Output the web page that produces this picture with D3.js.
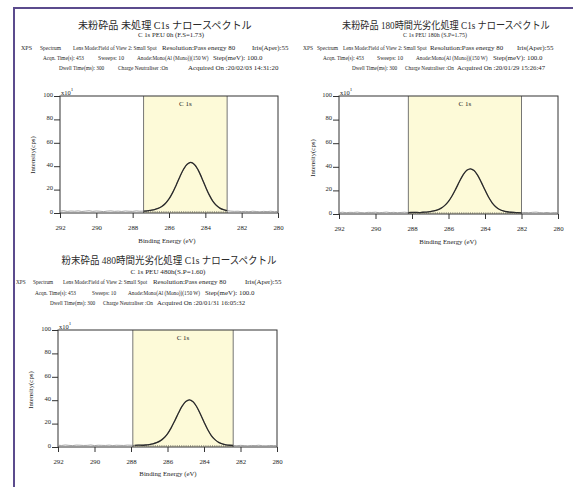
<!DOCTYPE html>
<html><head><meta charset="utf-8">
<script src="https://cdn.jsdelivr.net/npm/d3@7"></script>
<style>
body{margin:0;background:#fff}
svg{display:block}
text{font-family:'Liberation Serif','Noto Sans CJK JP',serif;fill:#1e1e1e}
</style>
</head><body>
<svg id="chart" width="573" height="487"></svg>
<script>
// ---------- DATA ----------
const energy = [292.0,291.8,291.6,291.4,291.2,291.0,290.8,290.6,290.4,290.2,290.0,289.8,289.6,289.4,289.2,289.0,288.8,288.6,288.4,288.2,288.0,287.8,287.6,287.4,287.2,
287.0,286.8,286.6,286.4,286.2,286.0,285.8,285.6,285.4,285.2,285.0,284.8,284.6,284.4,284.2,284.0,283.8,283.6,283.4,283.2,283.0,282.8,282.6,
282.4,282.2,282.0,281.8,281.6,281.4,281.2,281.0,280.8,280.6,280.4,280.2,280.0];

const intensity0h = [1.6,1.9,1.4,1.7,1.5,1.8,1.3,1.6,1.9,1.4,1.7,1.5,1.2,1.6,1.8,1.4,1.6,1.3,1.7,1.5,1.4,1.8,1.5,1.6,1.8,
2.3,2.9,3.9,5.5,8.1,12.0,17.4,24.0,31.0,37.4,41.7,43.2,41.5,36.9,30.2,22.8,15.9,10.4,6.6,4.2,2.8,2.0,1.6,
1.4,1.5,1.2,1.4,1.1,1.5,1.3,1.0,1.4,1.2,1.5,1.1,1.3];

const intensity180h = [1.2,1.5,1.1,1.4,1.3,1.6,1.2,1.0,1.4,1.3,1.5,1.1,1.3,1.6,1.2,1.4,1.1,1.3,1.5,1.2,1.3,1.4,1.2,1.5,1.6,
2.0,2.6,3.5,5.0,7.3,10.7,15.5,21.3,27.5,33.2,37.0,38.3,36.8,32.7,26.8,20.3,14.2,9.3,6.0,3.8,2.6,1.9,1.5,
1.3,1.2,1.0,1.3,1.1,1.4,1.6,1.2,1.0,1.3,0.9,1.2,1.0];

const intensity480h = [1.5,1.3,1.7,1.4,1.2,1.6,1.5,1.3,1.4,1.7,1.2,1.5,1.4,1.3,1.6,1.2,1.5,1.4,1.3,1.6,1.5,1.4,1.6,1.5,1.7,
2.1,2.7,3.7,5.2,7.7,11.3,16.4,22.5,29.0,34.9,38.9,40.3,38.7,34.4,28.2,21.4,15.0,9.8,6.3,4.0,2.7,1.9,1.5,
1.3,1.1,1.4,1.2,1.0,1.3,1.2,1.5,1.1,1.0,1.3,1.2,1.1];

const xTickLabels = [292,290,288,286,284,282,280];
const yTickLabels = [0,20,40,60,80,100];

const titles = ["未粉砕品 未処理 C1s ナロースペクトル","未粉砕品 180時間光劣化処理 C1s ナロースペクトル","粉末砕品 480時間光劣化処理 C1s ナロースペクトル"];
const subtitles = ["C 1s PEU 0h (F.S=1.73)","C 1s PEU 180h (S.P=1.75)","C 1s PEU 480h(S.P=1.60)"];
const regionStart = [287.4,288.2,287.9];
const regionEnd = [282.8,282.0,282.4];
const backgroundStart = [1.0,0.9,1.0];
const backgroundEnd = [0.9,0.8,0.9];
const regionLabel = "C 1s";
const acquired = ["20/02/03 14:31:20","20/01/29 15:26:47","20/01/31 16:05:32"];
const series = [intensity0h,intensity180h,intensity480h];

// ---------- LAYOUT ----------
const layout = [
  {box:[60,278,96,213], title:[165,29,174], sub:[171,37,66],
   lineY:[50,60,70], clip:[15,299],
   A:[[21,11],[40,21],[73,81],[162,84],[252,46]],
   B:[[43,39],[98,26],[137,70],[213,90]],
   C:[[59,41],[118,50],[188,100]],
   ylab:[35,155], xlab:[167,243]},
  {box:[339,558,96,214], title:[446,29,208], sub:[435,37,64],
   lineY:[50,60,70], clip:[300,573],
   A:[[303,10],[317,21],[343,80],[430,80],[517,46]],
   B:[[323,39],[377,26],[416,71],[493,78]],
   C:[[352,40],[405,48],[457,88]],
   ylab:[315,158], xlab:[448,244]},
  {box:[58,277,330,447], title:[169,264,215], sub:[168,274,75],
   lineY:[284,295,305], clip:[15,299],
   A:[[16,9],[33,20],[63,84],[153,84],[245,48]],
   B:[[35,40],[92,23],[128,72],[205,94]],
   C:[[50,40],[103,50],[157,88]],
   ylab:[33,390], xlab:[168,476]}
];

const svg = d3.select("#chart");
svg.append("rect").attr("width",573).attr("height",487).attr("fill","#fff");

// frame border
svg.append("line").attr("x1",14).attr("x2",14).attr("y1",7).attr("y2",487).attr("stroke","#5b4b8d").attr("stroke-width",2);
svg.append("line").attr("x1",13).attr("x2",573).attr("y1",8).attr("y2",8).attr("stroke","#5b4b8d").attr("stroke-width",2);

const defs = svg.append("defs");

// text fitted horizontally toward a target width (horizontal scale only, clamped)
function fitText(parent, str, x, y, width, fs, lo, hi){
  const t = parent.append("text").attr("x",0).attr("y",0).attr("font-size",fs).text(str);
  const w = t.node().getComputedTextLength();
  let sx = w > 0 ? width / w : 1;
  sx = Math.max(lo, Math.min(hi, sx));
  t.attr("transform",`translate(${x},${y}) scale(${sx},1)`);
  return t;
}

layout.forEach((L,i)=>{
  const g = svg.append("g");
  defs.append("clipPath").attr("id","tc"+i).append("rect")
    .attr("x",L.clip[0]).attr("y",0).attr("width",L.clip[1]-L.clip[0]).attr("height",487);
  const tg = g.append("g").attr("clip-path",`url(#tc${i})`);

  // title & subtitle
  fitText(tg, titles[i], L.title[0]-L.title[2]/2, L.title[1], L.title[2], 10.5, 0.8, 1.2).style("fill","#2a2a2a");
  fitText(tg, subtitles[i], L.sub[0]-L.sub[2]/2, L.sub[1], L.sub[2], 6.6, 0.8, 1.2);

  const lineA = ["XPS","Spectrum","Lens Mode:Field of View 2: Small Spot","Resolution:Pass energy 80","Iris(Aper):55"];
  const lineB = ["Acqn. Time(s): 453","Sweeps: 10","Anode:Mono(Al (Mono))(150 W)","Step(meV): 100.0"];
  const lineC = ["Dwell Time(ms): 300","Charge Neutraliser :On","Acquired On :"+acquired[i]];
  [[lineA,L.A],[lineB,L.B],[lineC,L.C]].forEach(([txts,pos],k)=>{
    txts.forEach((t,j)=>{
      fitText(tg, t, pos[j][0], L.lineY[k], pos[j][1], 6.4, 0.82, 1.08);
    });
  });

  // scales
  const [x0,x1,y0,y1] = L.box;
  const x = d3.scaleLinear().domain([292,280]).range([x0,x1]);
  const y = d3.scaleLinear().domain([0,100]).range([y1,y0]);

  // shaded region
  g.append("rect").attr("x",x(regionStart[i])).attr("y",y0)
    .attr("width",x(regionEnd[i])-x(regionStart[i])).attr("height",y1-y0)
    .attr("fill","#fdfad8");
  [regionStart[i],regionEnd[i]].forEach(e=>{
    g.append("line").attr("x1",x(e)).attr("x2",x(e)).attr("y1",y0).attr("y2",y1)
      .attr("stroke","#666").attr("stroke-width",0.9);
  });
  g.append("text").attr("x",(x(regionStart[i])+x(regionEnd[i]))/2).attr("y",y0+10)
    .attr("text-anchor","middle").attr("font-size",7).text(regionLabel);

  // frame
  g.append("rect").attr("x",x0).attr("y",y0).attr("width",x1-x0).attr("height",y1-y0)
    .attr("fill","none").attr("stroke","#333").attr("stroke-width",1);

  // data
  const pts = energy.map((e,j)=>[e,series[i][j]]);
  const line = d3.line().x(d=>x(d[0])).y(d=>y(d[1]));
  g.append("path").attr("d",line(pts)).attr("fill","none").attr("stroke","#8a8a8a").attr("stroke-width",0.8);
  const inReg = pts.filter(d=>d[0]<=regionStart[i]+0.0001 && d[0]>=regionEnd[i]-0.0001);
  g.append("path").attr("d",d3.line().x(d=>x(d[0])).y(d=>y(d[1])).curve(d3.curveCatmullRom)(inReg))
    .attr("fill","none").attr("stroke","#2a2a2a").attr("stroke-width",1.3);
  g.append("path").attr("d",line([[regionStart[i],backgroundStart[i]],[regionEnd[i],backgroundEnd[i]]]))
    .attr("fill","none").attr("stroke","#444").attr("stroke-width",0.8).attr("stroke-dasharray","1,1.2");

  // x axis
  const xa = g.append("g").attr("transform",`translate(0,${y1})`);
  xa.call(d3.axisBottom(x).tickValues(x.ticks(24)).tickSize(3).tickFormat(""));
  xa.call(d3.axisBottom(x).tickValues(xTickLabels).tickSize(5).tickPadding(7).tickFormat(d3.format("d")));
  xa.selectAll(".domain").remove();
  xa.selectAll("line").attr("stroke","#333");
  xa.selectAll("text").attr("font-size",6.8).attr("fill","#1e1e1e").attr("font-family","'Liberation Serif',serif");

  // y axis
  const ya = g.append("g").attr("transform",`translate(${x0},0)`);
  ya.call(d3.axisLeft(y).tickValues(y.ticks(10)).tickSize(2.5).tickFormat(""));
  ya.call(d3.axisLeft(y).tickValues(yTickLabels).tickSize(6).tickPadding(1).tickFormat(d3.format("d")));
  ya.selectAll(".domain").remove();
  ya.selectAll("line").attr("stroke","#333");
  ya.selectAll("text").attr("font-size",6.5).attr("dy","0.05em").attr("fill","#1e1e1e").attr("font-family","'Liberation Serif',serif");

  // x10^1 multiplier
  const m = g.append("text").attr("x",x0+1).attr("y",y0-1).attr("font-size",6.5);
  m.append("tspan").text("x10");
  m.append("tspan").attr("dy",-4).attr("font-size",5).text("1");

  // axis titles
  g.append("text").attr("transform",`translate(${L.ylab[0]},${L.ylab[1]}) rotate(-90)`)
    .attr("text-anchor","middle").attr("font-size",6.8).text("Intensity(cps)");
  g.append("text").attr("x",L.xlab[0]).attr("y",L.xlab[1]).attr("text-anchor","middle")
    .attr("font-size",6.8).text("Binding Energy (eV)");
});
</script>
</body></html>
